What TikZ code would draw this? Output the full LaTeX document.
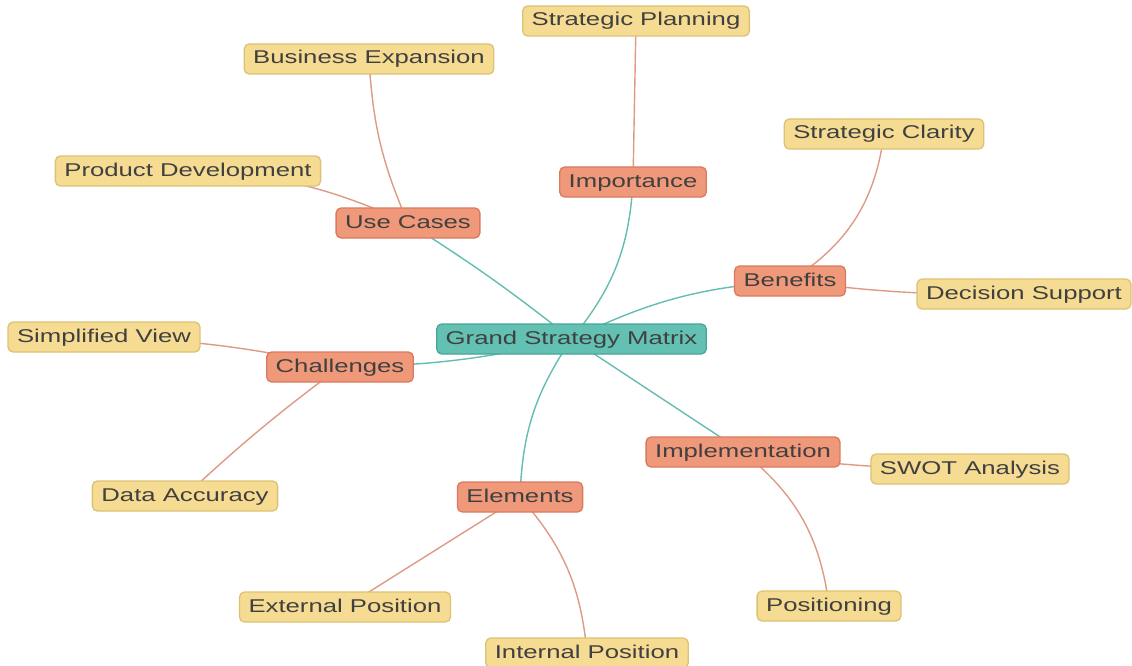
\documentclass[tikz,border=0pt]{standalone}
\usepackage{fontspec}
\setmainfont{Liberation Sans}[FakeStretch=1.39]
\usetikzlibrary{backgrounds}
\definecolor{rootfill}{HTML}{63C1B3}
\definecolor{rootdraw}{HTML}{4AA596}
\definecolor{midfill}{HTML}{F0987A}
\definecolor{middraw}{HTML}{D97A5E}
\definecolor{leaffill}{HTML}{F6DC92}
\definecolor{leafdraw}{HTML}{DCC274}
\definecolor{tealline}{HTML}{63BDB0}
\definecolor{salmonline}{HTML}{DD9A85}
\definecolor{txt}{HTML}{404040}
\begin{document}
\begin{tikzpicture}[x=1pt,y=1pt,
  box/.style={rounded corners=5pt, line width=1.3pt, inner xsep=9pt, inner ysep=0pt,
    text height=13.5pt, text depth=3.5pt, minimum height=30pt,
    font=\fontsize{18.5}{20}\selectfont, text=txt},
  rootbox/.style={box, fill=rootfill, draw=rootdraw},
  midbox/.style={box, fill=midfill, draw=middraw},
  leafbox/.style={box, fill=leaffill, draw=leafdraw},
  tealedge/.style={draw=tealline, line width=1.4pt},
  salmonedge/.style={draw=salmonline, line width=1.4pt}]
\useasboundingbox (0,0) rectangle (1132,-666);

\node[rootbox] (root) at (571.5,-339) {Grand Strategy Matrix};
\node[midbox] (imp) at (633,-182) {Importance};
\node[leafbox] (sp) at (636,-21) {Strategic Planning};
\node[midbox] (uc) at (408,-223) {Use Cases};
\node[leafbox] (be) at (369,-59) {Business Expansion};
\node[leafbox] (pd) at (188,-171) {Product Development};
\node[midbox] (ben) at (790,-281) {Benefits};
\node[leafbox] (sc) at (884,-134) {Strategic Clarity};
\node[leafbox] (ds) at (1024,-294) {Decision Support};
\node[midbox] (ch) at (340,-367) {Challenges};
\node[leafbox] (sv) at (104,-337) {Simplified View};
\node[leafbox] (da) at (185,-496) {Data Accuracy};
\node[midbox] (impl) at (743,-452) {Implementation};
\node[leafbox] (swot) at (970,-469) {SWOT Analysis};
\node[leafbox] (pos) at (829,-606) {Positioning};
\node[midbox] (el) at (520,-497) {Elements};
\node[leafbox] (ep) at (345,-607) {External Position};
\node[leafbox] (ip) at (587,-653) {Internal Position};

\begin{scope}[on background layer]
\draw[tealedge] (root.center) to[bend right=18] (imp.center);
\draw[tealedge] (root.center) to[bend left=11] (ben.center);
\draw[tealedge] (root.center) to[bend right=3] (uc.center);
\draw[tealedge] (root.center) to[bend left=6] (ch.center);
\draw[tealedge] (root.center) -- (impl.center);
\draw[tealedge] (root.center) to[bend right=16] (el.center);
\draw[salmonedge] (imp.center) -- (sp.center);
\draw[salmonedge] (uc.center) to[bend left=10] (be.center);
\draw[salmonedge] (uc.center) to[bend right=11] (pd.center);
\draw[salmonedge] (ben.center) to[bend right=25] (sc.center);
\draw[salmonedge] (ben.center) to[bend right=4] (ds.center);
\draw[salmonedge] (ch.center) to[bend right=5] (sv.center);
\draw[salmonedge] (ch.center) to[bend right=3] (da.center);
\draw[salmonedge] (impl.center) to[bend right=4] (swot.center);
\draw[salmonedge] (impl.center) to[bend left=22] (pos.center);
\draw[salmonedge] (el.center) -- (ep.center);
\draw[salmonedge] (el.center) to[bend left=18] (ip.center);
\end{scope}
\end{tikzpicture}
\end{document}
